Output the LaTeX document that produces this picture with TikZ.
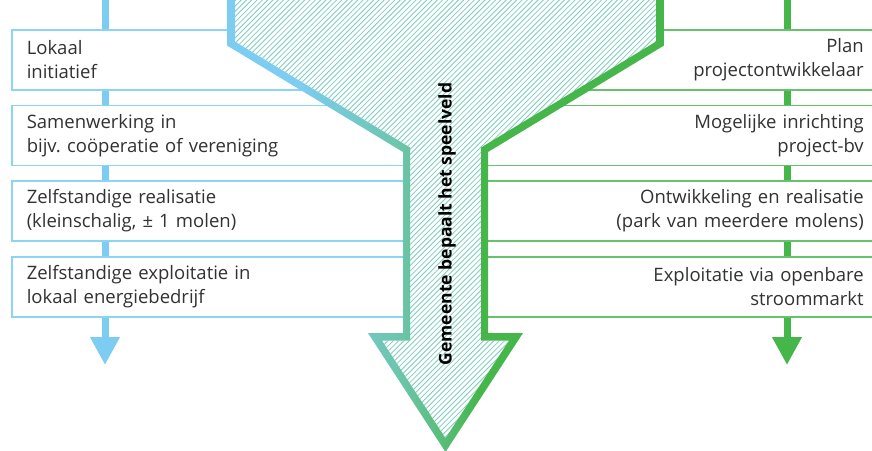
\documentclass[tikz,border=0pt]{standalone}
\usepackage{fontspec}
\setmainfont{Open Sans}
\usetikzlibrary{arrows.meta}
\frenchspacing

\definecolor{fblue}{RGB}{125,205,242}
\definecolor{fteal}{RGB}{108,197,169}
\definecolor{fgreen}{RGB}{69,182,73}
\definecolor{lboxc}{RGB}{140,212,243}
\definecolor{rboxc}{RGB}{104,194,106}
\definecolor{hatchc}{RGB}{128,206,192}
\definecolor{txtc}{RGB}{50,50,50}

\pgfdeclarehorizontalshading{funnelgrad}{100bp}{color(0bp)=(fblue); color(33bp)=(fblue); color(45bp)=(fteal); color(54bp)=(fgreen); color(100bp)=(fgreen)}

\tikzset{
  boxtext/.style={font=\fontsize{18.5}{24}\selectfont, text=txtc},
  lstage/.style={boxtext, draw=lboxc, line width=1.5pt, fill=white, anchor=west,
    minimum height=60pt, inner xsep=15pt, text width=374pt, align=left},
  rstage/.style={boxtext, draw=rboxc, line width=1.5pt, fill=white, anchor=west,
    minimum height=60pt, inner xsep=22pt, text width=365pt, align=right},
  lflow/.style={draw=fblue, line width=7pt},
  rflow/.style={draw=fgreen, line width=7pt},
  hatch/.style={draw=hatchc, line width=0.8pt}
}

\begin{document}
\begin{tikzpicture}[x=1pt, y=-1pt]
        \useasboundingbox (0,0) rectangle (872,450);

        \node[lstage] (l1) at (11,60) {Lokaal\\initiatief};
        \node[lstage] (l2) at (11,135.5) {Samenwerking in\\bijv. coöperatie of vereniging};
        \node[lstage] (l3) at (11,211) {Zelfstandige realisatie\\(kleinschalig, ± 1 molen)};
        \node[lstage] (l4) at (11,287) {Zelfstandige exploitatie in\\lokaal energiebedrijf};

        \node[rstage] (r1) at (476,60) {Plan\hspace*{5pt}\\projectontwikkelaar};
        \node[rstage] (r2) at (476,135.5) {Mogelijke inrichting\hspace*{5pt}\\project-bv};
        \node[rstage] (r3) at (476,211) {Ontwikkeling en realisatie\hspace*{5pt}\\(park van meerdere molens)};
        \node[rstage] (r4) at (476,287) {Exploitatie via openbare\hspace*{5pt}\\stroommarkt};

        \coordinate (ltop) at (105,0);
        \coordinate (lbot) at (105,365);
        \coordinate (rtop) at (787,0);
        \coordinate (rbot) at (787,365);

        \draw[lflow] (ltop) -- (l1.north -| ltop);
        \draw[lflow] (l1.south -| ltop) -- (l2.north -| ltop);
        \draw[lflow] (l2.south -| ltop) -- (l3.north -| ltop);
        \draw[lflow] (l3.south -| ltop) -- (l4.north -| ltop);
        \draw[lflow, -{Triangle[width=28pt, length=28pt]}] (l4.south -| ltop) -- (lbot);

        \draw[rflow] (rtop) -- (r1.north -| rtop);
        \draw[rflow] (r1.south -| rtop) -- (r2.north -| rtop);
        \draw[rflow] (r2.south -| rtop) -- (r3.north -| rtop);
        \draw[rflow] (r3.south -| rtop) -- (r4.north -| rtop);
        \draw[rflow, -{Triangle[width=28pt, length=28pt]}] (r4.south -| rtop) -- (rbot);

        \begin{scope}
          \clip (235,-5) -- (235,41.6) -- (410,147.5) -- (410,340.5) -- (381.9,340.5) -- (445.5,438.2)
            -- (509.1,340.5) -- (481,340.5) -- (481,147.5) -- (656,41.6) -- (656,-5) -- cycle;
          \fill[white] (200,-10) rectangle (700,460);
          \foreach \k in {-240,-234.7,...,700}
            \draw[hatch] (\k,460) -- ++(470,-470);
        \end{scope}

        \shade[shading=funnelgrad, even odd rule]
          (227,-5) -- (227,45.5) -- (403,152) -- (403,333) -- (368,333) -- (445.5,452)
            -- (523,333) -- (488,333) -- (488,152) -- (664,45.5) -- (664,-5) -- cycle
          (235,-5) -- (235,41.6) -- (410,147.5) -- (410,340.5) -- (381.9,340.5) -- (445.5,438.2)
            -- (509.1,340.5) -- (481,340.5) -- (481,147.5) -- (656,41.6) -- (656,-5) -- cycle;

        \node[boxtext, text=black, font=\fontsize{17.5}{24}\selectfont\bfseries, rotate=90] (gem) at (447,224) {Gemeente bepaalt het speelveld};
      \end{tikzpicture}
\end{document}
